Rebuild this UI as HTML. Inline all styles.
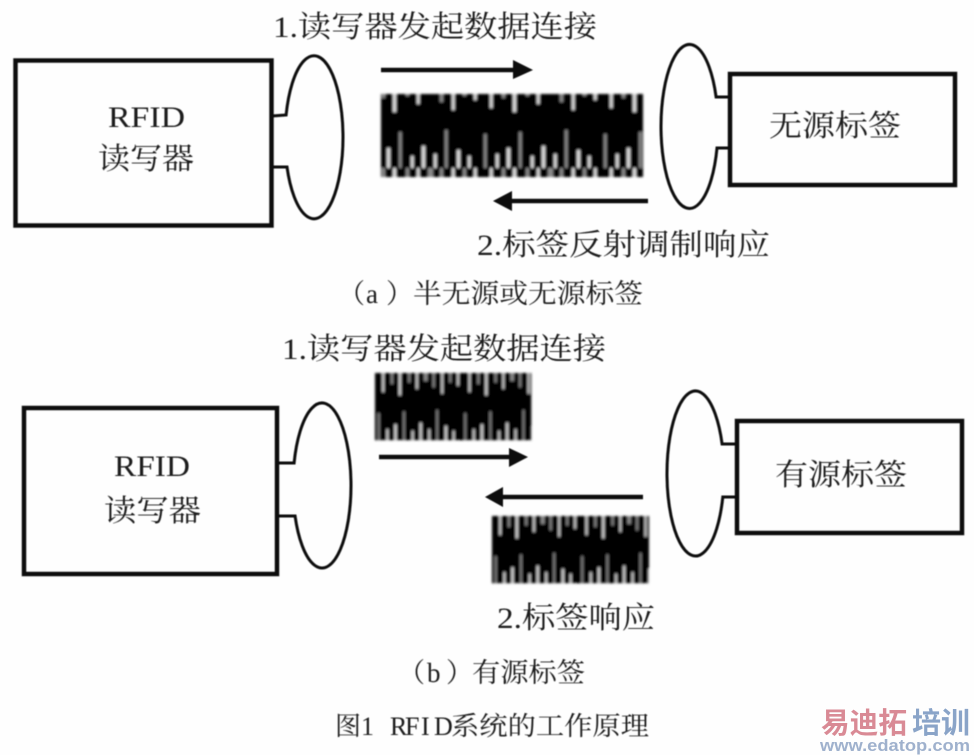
<!DOCTYPE html>
<html><head><meta charset="utf-8"><style>
html,body{margin:0;padding:0;background:#fff;width:974px;height:755px;overflow:hidden}
svg{display:block}
text{font-family:"Liberation Serif","Noto Serif CJK SC",serif;fill:#1a1a1a}
</style></head><body>
<svg width="974" height="755" viewBox="0 0 974 755" xmlns="http://www.w3.org/2000/svg">
<defs>
<filter id="b" x="-5%" y="-5%" width="110%" height="110%"><feGaussianBlur stdDeviation="0.6"/></filter>
<filter id="b2" x="-5%" y="-10%" width="110%" height="120%"><feGaussianBlur stdDeviation="1.300"/></filter>
<pattern id="p" width="120" height="84" patternUnits="userSpaceOnUse">
<rect width="120" height="84" fill="#050505"/>
<g fill="#e0e0e0">
<rect x="10" y="0" width="2.500" height="24"/><rect x="33" y="0" width="3" height="28"/><rect x="57" y="0" width="2.500" height="20"/><rect x="92" y="0" width="2.500" height="26"/><rect x="114" y="0" width="2.500" height="16"/>
<rect x="16" y="70" width="2.500" height="14"/><rect x="27" y="64" width="3" height="20"/><rect x="51" y="72" width="2.500" height="12"/><rect x="62" y="62" width="3" height="22"/><rect x="74" y="70" width="2.500" height="14"/><rect x="97" y="66" width="3" height="18"/><rect x="108" y="72" width="2.500" height="12"/>
</g>
<g fill="#8a8a8a">
<rect x="22" y="0" width="3" height="14"/><rect x="46" y="0" width="3" height="12"/><rect x="68" y="0" width="5" height="10"/><rect x="80" y="0" width="3" height="18"/><rect x="103" y="0" width="3" height="12"/>
<rect x="4" y="50" width="2.500" height="34"/><rect x="39" y="48" width="2.500" height="36"/><rect x="85" y="46" width="2.500" height="38"/>
</g>
</pattern>
</defs>
<rect width="974" height="755" fill="#fefefe"/>

<g filter="url(#b2)">
<rect x="381" y="94" width="262" height="83" fill="url(#p)"/>
<g transform="translate(375 373) scale(.72 .8)"><rect width="217" height="84" fill="url(#p)"/></g>
<g transform="translate(492 516) scale(.72 .8)"><rect width="218" height="84" fill="url(#p)"/></g>
</g>

<g filter="url(#b)" fill="none" stroke="#111">
<rect x="15.500" y="60.500" width="256" height="165" stroke-width="4.500"/>
<path d="M272 116 L286.100 115 A29 81.500 0 1 1 287 167 L272 167" stroke-width="3"/>
<rect x="730" y="74" width="225" height="111" stroke-width="4.500"/>
<path d="M729 97 L716.100 97 A28.500 82 0 1 0 717 148 L729 148" stroke-width="3"/>
<rect x="24" y="408" width="253" height="166" stroke-width="4.500"/>
<path d="M279 463 L294.100 463 A29 82.500 0 1 1 295.060 516 L279 516" stroke-width="3"/>
<rect x="737" y="421" width="225" height="112" stroke-width="4.500"/>
<path d="M736 444 L722.100 444 A28.500 82.500 0 1 0 722.800 497 L736 497" stroke-width="3"/>
<g stroke-width="4.500">
<path d="M381 70H518"/><path d="M648 201H508"/><path d="M379 457H513"/><path d="M643 497H499"/>
</g>
<g fill="#111" stroke="none">
<path d="M513 60L533 70L513 79Z"/>
<path d="M512 191L493 201L512 211Z"/>
<path d="M509 448L528 457L509 467Z"/>
<path d="M503 487L485 497L503 507Z"/>
</g>
</g>

<g filter="url(#b)" font-size="30">
<text x="273" y="37" textLength="324" lengthAdjust="spacingAndGlyphs">1.读写器发起数据连接</text>
<text x="477" y="255" textLength="293" lengthAdjust="spacingAndGlyphs">2.标签反射调制响应</text>
<text x="282" y="359" textLength="324" lengthAdjust="spacingAndGlyphs">1.读写器发起数据连接</text>
<text x="497" y="628" textLength="158" lengthAdjust="spacingAndGlyphs">2.标签响应</text>
<text x="108" y="127" textLength="77" lengthAdjust="spacingAndGlyphs">RFID</text>
<text x="98" y="169" textLength="96" lengthAdjust="spacingAndGlyphs">读写器</text>
<text x="769" y="136" textLength="132" lengthAdjust="spacingAndGlyphs">无源标签</text>
<text x="114" y="476" textLength="76" lengthAdjust="spacingAndGlyphs">RFID</text>
<text x="104" y="521" textLength="97" lengthAdjust="spacingAndGlyphs">读写器</text>
<text x="775" y="485" textLength="132" lengthAdjust="spacingAndGlyphs">有源标签</text>
<g font-size="27">
<text x="338 366 386" y="303">（a）</text>
<text x="413" y="303" textLength="230" lengthAdjust="spacingAndGlyphs">半无源或无源标签</text>
<text x="398 427 446" y="682">（b）</text>
<text x="472" y="682" textLength="113" lengthAdjust="spacingAndGlyphs">有源标签</text>
</g>
<g font-size="26">
<text x="335" y="735">图</text>
<text x="361" y="735">1</text>
<text x="390 405 421 434" y="735">RFID</text>
<text x="451" y="735" textLength="198" lengthAdjust="spacingAndGlyphs">系统的工作原理</text>
</g>
</g>

<g style="font-weight:bold">
<text x="821" y="733" font-size="29" textLength="86" lengthAdjust="spacingAndGlyphs" style="font-family:'Liberation Sans','Noto Sans CJK SC',sans-serif;fill:#d98a95;font-weight:bold">易迪拓</text>
<text x="912" y="733" font-size="29" textLength="58" lengthAdjust="spacingAndGlyphs" style="font-family:'Liberation Sans','Noto Sans CJK SC',sans-serif;fill:#8aa4c8;font-weight:bold">培训</text>
<text x="820" y="751" font-size="17" textLength="150" lengthAdjust="spacingAndGlyphs" style="font-family:'Liberation Sans',sans-serif;fill:#9fb1cd;font-weight:bold">www.edatop.com</text>
</g>
</svg>
</body></html>
